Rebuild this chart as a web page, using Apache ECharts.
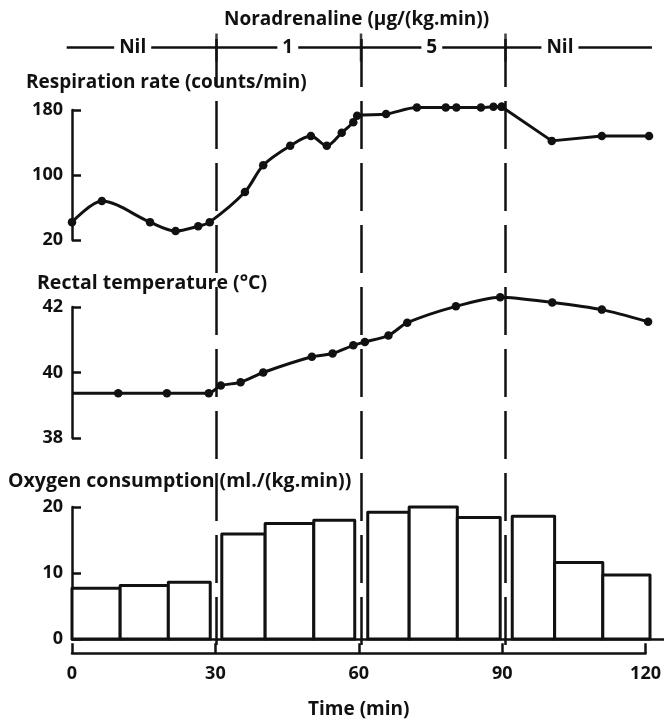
<!DOCTYPE html>
<html><head><meta charset="utf-8">
<script src="https://cdn.jsdelivr.net/npm/echarts@6/dist/echarts.min.js"></script>
<style>html,body{margin:0;padding:0;background:#fff}#c{width:664px;height:720px}</style>
</head><body><div id="c"></div>
<script>
// ---- data ----
const respTime  = [0, 6.2, 16.2, 21.5, 26.2, 28.6, 35.9, 39.7, 45.3, 49.6, 52.9, 56, 58.4, 59.2, 65.2, 71.6, 77.6, 79.8, 84.9, 87.5, 89.2, 99.6, 110, 119.8];
const respRate  = [42, 68, 42, 31, 37, 42, 79, 112, 136, 148, 136, 152, 165, 173, 175, 183, 183, 183, 183, 184, 184, 142, 148, 148];
const tempTime  = [0, 9.6, 19.7, 28.4, 30.9, 35, 39.7, 49.8, 54.1, 58.4, 60.8, 65.7, 69.6, 79.7, 88.9, 99.7, 110, 119.6];
const tempValue = [39.37, 39.37, 39.37, 39.37, 39.6, 39.7, 40.0, 40.48, 40.58, 40.83, 40.93, 41.13, 41.52, 42.02, 42.3, 42.14, 41.92, 41.55];
const o2Start   = [0, 10, 20, 31.1, 40.1, 50.2, 61.4, 70, 80, 91.4, 100.2, 110.2];
const o2End     = [10, 20, 28.7, 40.1, 50.2, 58.7, 70, 80, 88.9, 100.2, 110.2, 120];
const o2Value   = [7.7, 8.1, 8.6, 15.9, 17.5, 18.0, 19.2, 20.0, 18.4, 18.6, 11.6, 9.7];
const doseLabels = ['Nil', '1', '5', 'Nil'];
const doseStart  = [-1.1, 30, 60, 90];
const doseEnd    = [30, 60, 90, 120.4];
const doseLabelAt = [12.6, 44.8, 74.7, 101.3];
const doseChanges = [30, 60, 90];
const timeTicks = [0, 30, 60, 90, 120];

const FONT = '"Open Sans"';
const ink = '#111';
const chart = echarts.init(document.getElementById('c'), null, {renderer: 'canvas'});

const lblStyle = {color: ink, fontFamily: FONT, fontWeight: 'bold', fontSize: 18, margin: 9};
const axisCommon = {
  axisLine: {show: true, lineStyle: {color: ink, width: 2.5}},
  axisTick: {show: true, inside: true, length: 9, lineStyle: {color: ink, width: 2.5}},
  axisLabel: lblStyle,
  splitLine: {show: false}
};
const hiddenX = (gi, max) => ({type: 'value', gridIndex: gi, min: 0, max: max, show: false});

const titleStyle = {color: ink, fontFamily: FONT, fontWeight: 'bold', fontSize: 19.5};

// split respiration into smooth part (drug phase) and straight recovery part
const splitIdx = respTime.findIndex(t => t >= 89);

chart.setOption({
  animation: false,
  backgroundColor: '#fff',
  title: [
    {text: 'Noradrenaline (μg/(kg.min))', left: 224, top: 10, padding: 0, textStyle: Object.assign({}, titleStyle, {fontSize: 19})},
    {text: 'Respiration rate (counts/min)', left: 26, top: 73, padding: 0, textStyle: Object.assign({}, titleStyle, {fontSize: 19})},
    {text: 'Rectal temperature (°C)', left: 37, top: 273, padding: 0, textStyle: titleStyle},
    {text: 'Oxygen consumption (ml./(kg.min))', left: 8, top: 471, padding: 0, textStyle: titleStyle}
  ],
  grid: [
    {left: 72, width: 578, top: 110, height: 130},          // 0 respiration
    {left: 72, width: 578, top: 307, height: 131},          // 1 temperature
    {left: 72, width: 592, top: 507, height: 132},          // 2 oxygen
    {left: 72, width: 578, top: 653, height: 1},            // 3 time axis
    {left: 72, width: 578, top: 38, height: 607},           // 4 dashed lines
    {left: 72, width: 578, top: 47, height: 1}              // 5 header
  ],
  xAxis: [
    hiddenX(0, 120),
    hiddenX(1, 120),
    {type: 'value', gridIndex: 2, min: 0, max: 120 * 592 / 578,
      axisLine: {show: true, onZero: true, lineStyle: {color: ink, width: 2.5}},
      axisTick: {show: false}, axisLabel: {show: false}, splitLine: {show: false}},
    Object.assign({}, axisCommon, {type: 'value', gridIndex: 3, min: 0, max: 120, interval: 30,
      position: 'bottom',
      axisTick: {show: true, inside: true, length: 10, lineStyle: {color: ink, width: 2.5}},
      axisLine: {show: true, onZero: false, lineStyle: {color: ink, width: 2.5}},
      axisLabel: Object.assign({}, lblStyle, {margin: 12,
        formatter: v => timeTicks.includes(v) ? String(v) : ''}),
      name: 'Time (min)', nameLocation: 'middle', nameGap: 47,
      nameTextStyle: Object.assign({}, titleStyle, {fontSize: 19})}),
    hiddenX(4, 120),
    {type: 'value', gridIndex: 5, min: 0, max: 120, show: false}
  ],
  yAxis: [
    Object.assign({}, axisCommon, {type: 'value', gridIndex: 0, min: 20, max: 180, interval: 80}),
    Object.assign({}, axisCommon, {type: 'value', gridIndex: 1, min: 38, max: 42, interval: 2}),
    Object.assign({}, axisCommon, {type: 'value', gridIndex: 2, min: 0, max: 20, interval: 10}),
    {type: 'value', gridIndex: 3, min: 0, max: 1, show: false},
    {type: 'value', gridIndex: 4, min: 0, max: 1, show: false},
    {type: 'value', gridIndex: 5, min: -1, max: 1, show: false}
  ],
  series: [
    {
      type: 'line', xAxisIndex: 0, yAxisIndex: 0, smooth: 0.3,
      data: respTime.slice(0, splitIdx + 1).map((t, i) => [t, respRate[i]]),
      symbol: 'circle', symbolSize: 8.5, clip: false,
      lineStyle: {color: ink, width: 3}, itemStyle: {color: ink}
    },
    {
      type: 'line', xAxisIndex: 0, yAxisIndex: 0, smooth: false,
      data: respTime.slice(splitIdx).map((t, i) => [t, respRate[splitIdx + i]]),
      symbol: 'circle', symbolSize: 8.5, clip: false,
      lineStyle: {color: ink, width: 3}, itemStyle: {color: ink}
    },
    {
      type: 'line', xAxisIndex: 1, yAxisIndex: 1, smooth: 0.25,
      data: tempTime.map((t, i) => i === 0 ? {value: [t, tempValue[i]], symbol: 'none'} : [t, tempValue[i]]),
      symbol: 'circle', symbolSize: 8.5, clip: false,
      lineStyle: {color: ink, width: 3}, itemStyle: {color: ink}
    },
    {
      type: 'custom', xAxisIndex: 2, yAxisIndex: 2, clip: false,
      data: o2Value.map((v, i) => [o2Start[i], o2End[i], v]),
      encode: {x: [0, 1], y: 2},
      renderItem: function (params, api) {
        const p0 = api.coord([api.value(0), api.value(2)]);
        const p1 = api.coord([api.value(1), 0]);
        return {
          type: 'rect',
          shape: {x: p0[0], y: p0[1], width: p1[0] - p0[0], height: p1[1] - p0[1]},
          style: {fill: '#fff', stroke: ink, lineWidth: 3, lineJoin: 'round'}
        };
      }
    },
    {
      type: 'line', xAxisIndex: 4, yAxisIndex: 4, data: [], silent: true,
      markLine: {
        silent: true, symbol: ['none', 'none'], label: {show: false},
        lineStyle: {color: ink, width: 2.5, type: [48, 14]},
        data: doseChanges.map(x => ({xAxis: x}))
      }
    },
    {
      type: 'custom', xAxisIndex: 5, yAxisIndex: 5, clip: false, z: 5,
      data: doseLabels.map((s, i) => [doseStart[i], doseEnd[i], doseLabelAt[i]]),
      renderItem: function (params, api) {
        const a = api.coord([api.value(0), 0]);
        const b = api.coord([api.value(1), 0]);
        const c = api.coord([api.value(2), 0]);
        return {
          type: 'group',
          children: [
            {type: 'line', shape: {x1: a[0], y1: a[1], x2: b[0], y2: b[1]},
              style: {stroke: ink, lineWidth: 2.5}},
            {type: 'text', x: c[0], y: c[1],
              style: {text: doseLabels[params.dataIndex], fill: ink,
                font: 'bold 19px "Open Sans"', align: 'center', verticalAlign: 'middle',
                backgroundColor: '#fff', padding: [0, 5]}}
          ]
        };
      }
    },
    {
      type: 'scatter', xAxisIndex: 5, yAxisIndex: 5, symbol: 'rect', symbolSize: [2.5, 28], clip: false, z: 6,
      data: doseChanges.map(x => [x, 0]), itemStyle: {color: ink}
    }
  ]
});
</script></body></html>
